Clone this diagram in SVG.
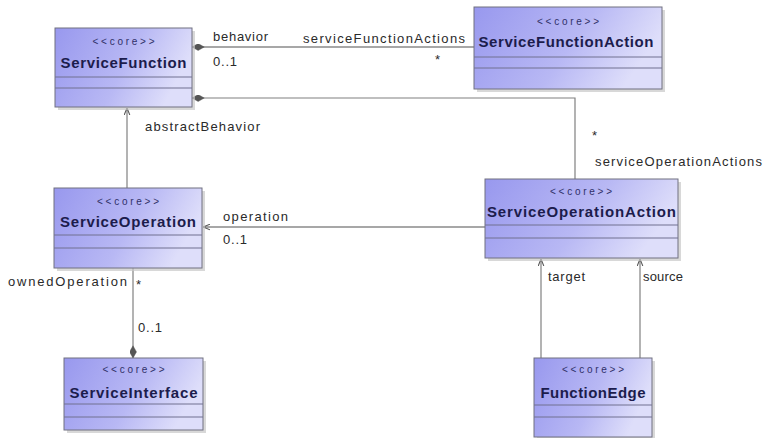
<svg xmlns="http://www.w3.org/2000/svg" width="766" height="438" viewBox="0 0 766 438">
<defs>
<linearGradient id="g" x1="0" y1="0" x2="1" y2="0.3">
<stop offset="0" stop-color="#9898ee"/>
<stop offset="0.6" stop-color="#b8b8f4"/>
<stop offset="1" stop-color="#dedefa"/>
</linearGradient>
<marker id="arr" viewBox="0 0 10 10" refX="10" refY="5" markerWidth="7" markerHeight="7" orient="auto" markerUnits="userSpaceOnUse">
<path d="M0,1 L10,5 L0,9" fill="none" stroke="#555" stroke-width="1.5"/>
</marker>
<marker id="dia" viewBox="0 0 14 8" refX="14" refY="4" markerWidth="13" markerHeight="7" orient="auto" markerUnits="userSpaceOnUse">
<path d="M0,4 L7,0 L14,4 L7,8 Z" fill="#555" stroke="#555" stroke-width="0.5"/>
</marker>
</defs>
<style>
.sh{fill:#c8c8c8;opacity:0.7}
.box{fill:url(#g);stroke:#707080;stroke-width:1}
.sep{stroke:#707090;stroke-width:1}
.st{font-family:"Liberation Sans",Arial,sans-serif;font-size:10px;fill:#303068;text-anchor:middle}
.nm{font-family:"Liberation Sans",Arial,sans-serif;font-size:15px;font-weight:bold;fill:#1c1c4c;text-anchor:middle}
.lb{font-family:"Liberation Sans",Arial,sans-serif;font-size:13px;fill:#2a2a2a}
.ln{fill:none;stroke:#808080;stroke-width:1.2}
.dk{stroke:#505050}
</style>
<rect width="766" height="438" fill="#fff"/>
<g id="connectors">
<path class="ln dk" d="M474,47 H192" marker-end="url(#dia)"/>
<path class="ln" d="M575,179 V98 H192" marker-end="url(#dia)"/>
<path class="ln" d="M127,188 V108" marker-end="url(#arr)"/>
<path class="ln dk" d="M485,227 H203" marker-end="url(#arr)"/>
<path class="ln" d="M133,268 V358" marker-end="url(#dia)"/>
<path class="ln" d="M541,358 V259" marker-end="url(#arr)"/>
<path class="ln" d="M640,358 V259" marker-end="url(#arr)"/>
<text class="lb" x="213" y="41" textLength="55">behavior</text>
<text class="lb" x="213" y="66" textLength="24">0..1</text>
<text class="lb" x="303" y="43" textLength="162">serviceFunctionActions</text>
<text class="lb" x="435" y="64">*</text>
<text class="lb" x="145" y="131" textLength="115">abstractBehavior</text>
<text class="lb" x="592" y="140">*</text>
<text class="lb" x="595" y="166" textLength="167">serviceOperationActions</text>
<text class="lb" x="223" y="221" textLength="65">operation</text>
<text class="lb" x="223" y="244" textLength="24">0..1</text>
<text class="lb" x="8" y="286" textLength="119">ownedOperation</text>
<text class="lb" x="136" y="289">*</text>
<text class="lb" x="138" y="332" textLength="24">0..1</text>
<text class="lb" x="548" y="281" textLength="37">target</text>
<text class="lb" x="643" y="281" textLength="40">source</text>
</g>
<g id="ServiceFunction">
<rect class="sh" x="58" y="31" width="137" height="79"/>
<rect class="box" x="55" y="28" width="137" height="79"/>
<line class="sep" x1="55" y1="77" x2="192" y2="77"/>
<line class="sep" x1="55" y1="88" x2="192" y2="88"/>
<text class="st" x="123.5" y="45" textLength="62">&lt;&lt;core&gt;&gt;</text>
<text class="nm" x="123.5" y="68" textLength="126">ServiceFunction</text>
</g>
<g id="ServiceFunctionAction">
<rect class="sh" x="477" y="10" width="188" height="82"/>
<rect class="box" x="474" y="7" width="188" height="82"/>
<line class="sep" x1="474" y1="57" x2="662" y2="57"/>
<line class="sep" x1="474" y1="68" x2="662" y2="68"/>
<text class="st" x="568" y="25" textLength="62">&lt;&lt;core&gt;&gt;</text>
<text class="nm" x="566" y="47" textLength="175">ServiceFunctionAction</text>
</g>
<g id="ServiceOperation">
<rect class="sh" x="57" y="191" width="148" height="80"/>
<rect class="box" x="54" y="188" width="148" height="80"/>
<line class="sep" x1="54" y1="235" x2="202" y2="235"/>
<line class="sep" x1="54" y1="248" x2="202" y2="248"/>
<text class="st" x="128" y="205" textLength="62">&lt;&lt;core&gt;&gt;</text>
<text class="nm" x="128" y="227" textLength="136">ServiceOperation</text>
</g>
<g id="ServiceOperationAction">
<rect class="sh" x="488" y="182" width="193" height="79"/>
<rect class="box" x="485" y="179" width="193" height="79"/>
<line class="sep" x1="485" y1="225" x2="678" y2="225"/>
<line class="sep" x1="485" y1="238" x2="678" y2="238"/>
<text class="st" x="581" y="195" textLength="62">&lt;&lt;core&gt;&gt;</text>
<text class="nm" x="581.5" y="217" textLength="189">ServiceOperationAction</text>
</g>
<g id="ServiceInterface">
<rect class="sh" x="67" y="361" width="139" height="72"/>
<rect class="box" x="64" y="358" width="139" height="72"/>
<line class="sep" x1="64" y1="404" x2="203" y2="404"/>
<line class="sep" x1="64" y1="417" x2="203" y2="417"/>
<text class="st" x="133.5" y="373" textLength="62">&lt;&lt;core&gt;&gt;</text>
<text class="nm" x="133.5" y="398" textLength="128">ServiceInterface</text>
</g>
<g id="FunctionEdge">
<rect class="sh" x="537" y="361" width="118" height="79"/>
<rect class="box" x="534" y="358" width="118" height="79"/>
<line class="sep" x1="534" y1="405" x2="652" y2="405"/>
<line class="sep" x1="534" y1="417" x2="652" y2="417"/>
<text class="st" x="593" y="373" textLength="62">&lt;&lt;core&gt;&gt;</text>
<text class="nm" x="593" y="398" textLength="105">FunctionEdge</text>
</g>
</svg>
